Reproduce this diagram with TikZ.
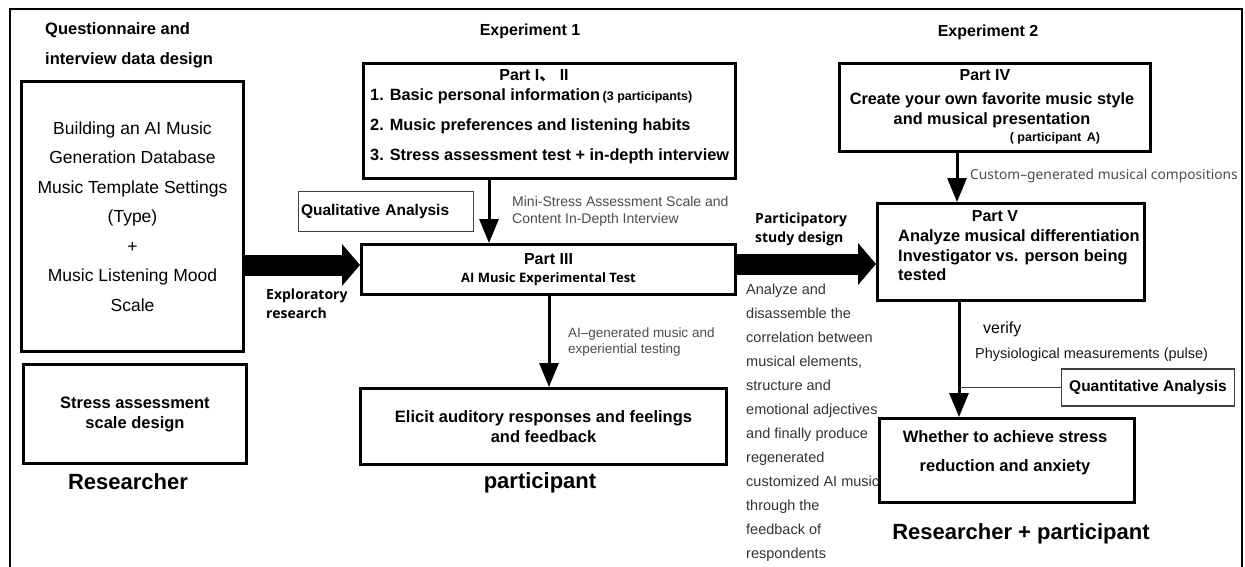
\documentclass[tikz,border=0pt]{standalone}
\usepackage{fontspec}
\setmainfont{Liberation Sans}
\newfontfamily\opensans{Open Sans}
\newfontfamily\notosans{Noto Sans}
\newfontfamily\cjk{Noto Sans CJK SC}
\usetikzlibrary{arrows.meta}
\usetikzlibrary{calc}

\begin{document}
\begin{tikzpicture}[x=1pt,y=-1pt,
	box/.style={draw,line width=3pt,inner sep=0pt},
	thin box/.style={draw=black!75,line width=1.2pt,inner sep=0pt},
	main node/.style={font=\bfseries\fontsize{16}{19.5}\selectfont,inner sep=0pt},
	who/.style={font=\bfseries\fontsize{22}{24}\selectfont,inner sep=0pt},
	note/.style={font=\fontsize{14}{17}\selectfont,text=black!70,align=left,anchor=west,inner sep=0pt},
	side/.style={font=\opensans\bfseries\fontsize{14}{19}\selectfont,align=left,anchor=west,inner sep=0pt},
	flow/.style={line width=3pt,-{Triangle[length=24pt,width=19pt]}},
	big flow/.style={line width=21pt,-{Triangle[length=18pt,width=41pt]}}]
	
	\useasboundingbox (0,0) rectangle (1245,566);
	\draw[line width=2pt] (10,575) -- (10,9) -- (1242,9) -- (1242,575);
	
	% researcher column
	\node[main node,align=left,anchor=west,font=\bfseries\fontsize{16.5}{30}\selectfont] (qd) at (45,45) {Questionnaire and\\interview data design};
	\node[box,minimum width=222,minimum height=270,align=center,font=\fontsize{17.5}{29.5}\selectfont] (build) at (132.5,216.5)
		{Building an AI Music\\Generation Database\\Music Template Settings\\(Type)\\+\\Music Listening Mood\\Scale};
	\node[box,main node,minimum width=223,minimum height=99,align=center,font=\bfseries\fontsize{16.5}{20}\selectfont] (sad) at (135,414) {Stress assessment\\scale design};
	\node[who] (res) at (128,482) {Researcher};
	
	% experiment 1
	\node[main node] (exp1) at (530,31) {Experiment 1};
	\node[box,minimum width=372,minimum height=115] (p12) at (549.5,121) {};
	\node[main node] (p12t) at (534,76) {Part I{\cjk 、} II};
	\node[main node,align=left,anchor=west,font=\bfseries\fontsize{16.3}{30}\selectfont] (items) at (370,126)
		{1. Basic personal information\,{\fontsize{12.5}{14}\selectfont(3 participants)}\\2. Music preferences and listening habits\\3. Stress assessment test + in-depth interview};
	\node[thin box,minimum width=175,minimum height=40,text width=170,align=left,font=\bfseries\fontsize{15.5}{18}\selectfont] (qual) at (386,211.5) {Qualitative Analysis};
	\node[box,main node,minimum width=374,minimum height=50,align=center,font=\bfseries\fontsize{16}{18}\selectfont] (p3) at (548.5,269.5)
		{Part III\\{\opensans\fontsize{13}{15}\selectfont AI Music Experimental Test}};
	\node[box,main node,minimum width=366,minimum height=76,align=center,font=\bfseries\fontsize{16.5}{19.5}\selectfont] (elicit) at (543.5,426.5) {Elicit auditory responses and feelings\\and feedback};
	\node[who] (part) at (540,483) {participant};
	
	\node[note] (mini) at (512,211.5) {Mini-Stress Assessment Scale and\\Content In-Depth Interview};
	\node[note,font=\fontsize{13.5}{16}\selectfont] (aigen) at (568,342) {AI–generated music and\\experiential testing};
	\node[side] (expl) at (266,304) {Exploratory\\research};
	
	% experiment 2
	\node[main node] (exp2) at (988,32) {Experiment 2};
	\node[box,minimum width=311,minimum height=88] (p4) at (995,107.5) {};
	\node[main node] (p4t) at (985,75) {Part IV};
	\node[main node,align=center,font=\bfseries\fontsize{16.3}{20}\selectfont] (p4b) at (992,110) {Create your own favorite music style\\and musical presentation};
	\node[main node,font=\bfseries\fontsize{12.5}{14}\selectfont] (pa) at (1055,138) {( participant\, A)};
	\node[box,minimum width=267,minimum height=97] (p5) at (1011,252) {};
	\node[main node] (p5t) at (995,216) {Part V};
	\node[main node,align=left,anchor=west,font=\bfseries\fontsize{16.4}{19.5}\selectfont] (p5b) at (898,255.5) {Analyze musical differentiation\\Investigator vs. person being\\tested};
	\node[thin box,main node,minimum width=173,minimum height=37,font=\bfseries\fontsize{15.5}{18}\selectfont] (quant) at (1148,387.5) {Quantitative Analysis};
	\node[box,minimum width=255,minimum height=84] (wh) at (1007,460.5) {};
	\node[main node,align=center,font=\bfseries\fontsize{16.5}{29}\selectfont] (wht) at (1005,452.5) {Whether to achieve stress\\reduction and anxiety};
	\node[who] (rp) at (1021,534) {Researcher + participant};
	
	\node[side] (partic) at (755,229) {Participatory\\study design};
	\node[note,anchor=north west,text=black!80,font=\fontsize{14.5}{24}\selectfont] (anal) at (746,284)
		{Analyze and\\disassemble the\\correlation between\\musical elements,\\structure and\\emotional adjectives\\and finally produce\\regenerated\\customized AI music\\through the\\feedback of\\respondents};
	\node[note,font=\notosans\fontsize{13.8}{16}\selectfont] (cust) at (970,176) {Custom–generated musical compositions};
	\node[note,text=black,font=\fontsize{16}{18}\selectfont] (ver) at (983,329) {verify};
	\node[note,text=black!90,font=\fontsize{14.5}{16}\selectfont] (phys) at (975,355) {Physiological measurements (pulse)};
	
	% connectors
	\coordinate (c1) at (489,0);
	\coordinate (c2) at (549,0);
	\coordinate (c3) at (957,0);
	\coordinate (c4) at (959,0);
	\coordinate (r1) at (0,265);
	\coordinate (r2) at (0,264);
	\draw[flow] (p12.south -| c1) -- (p3.north -| c1);
	\draw[flow] (p3.south -| c2) -- (elicit.north -| c2);
	\draw[flow] (p4.south -| c3) -- (p5.north -| c3);
	\draw[flow] (p5.south -| c4) -- (wh.north -| c4);
	\draw[line width=1.2pt,black!75] (quant.west) -- (quant.west -| c4);
	\draw[big flow] (build.east |- r1) -- (p3.west |- r1);
	\draw[big flow] (p3.east |- r2) -- (p5.west |- r2);
\end{tikzpicture}
\end{document}
